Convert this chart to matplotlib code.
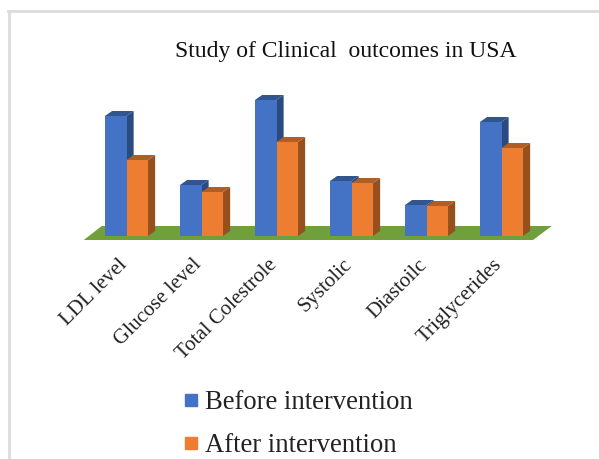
import matplotlib
matplotlib.use("Agg")
import matplotlib.pyplot as plt
from matplotlib.lines import Line2D
from matplotlib.patches import Polygon
from matplotlib.transforms import ScaledTranslation

# -----------------------------
# Data (no axis in the source, so values are in relative units)
# -----------------------------

categories = ["LDL level", "Glucose level", "Total Colestrole", "Systolic", "Diastoilc", "Triglycerides"]
before_values = [120, 51, 136, 55, 31, 114]
after_values = [76, 44, 94, 53, 30, 88]

BLUE = "#4472C4"
BLUE_SIDE = "#2A4A80"
BLUE_TOP = "#31568F"
ORANGE = "#ED7D31"
ORANGE_SIDE = "#96501E"
ORANGE_TOP = "#B05E24"
GREEN = "#70A03C"
BORDER = "#DCDCDC"

W, H = 599, 459
BAR_WIDTH = 0.287
DEPTH_X = 0.095
DEPTH_Y = 5

plt.rcParams["font.family"] = ["Liberation Serif", "DejaVu Serif"]

fig = plt.figure(figsize=(W / 100, H / 100), dpi=100)

# borders of the pasted screenshot
fig.add_artist(Line2D([8.5 / W, 8.5 / W], [0, 1 - 10.5 / H], color=BORDER, lw=2))
fig.add_artist(Line2D([8 / W, 1], [1 - 10.5 / H, 1 - 10.5 / H], color=BORDER, lw=2))

# axes placed so that baseline and bar spacing land on the source's pixels
left, right, base, top = 70, 570, 236, 90
ax = fig.add_axes([left / W, 1 - base / H, (right - left) / W, (base - top) / H])
ax.set_xlim((left - 126.5) / 75, (right - 126.5) / 75)
ax.set_ylim(0, base - top)
ax.patch.set_alpha(0)
for spine in ax.spines.values():
    spine.set_visible(False)

# floor
ax.add_patch(Polygon(
    [(-0.57, -4), (-0.33, 10), (5.67, 10), (5.42, -4)],
    closed=True, facecolor=GREEN, edgecolor="none", clip_on=False, zorder=1
))


def draw_bar(x, value, front, side, roof, z):
    x0 = x - BAR_WIDTH / 2
    x1 = x + BAR_WIDTH / 2
    ax.add_patch(Polygon(
        [(x1, 0), (x1 + DEPTH_X, DEPTH_Y), (x1 + DEPTH_X, value + DEPTH_Y), (x1, value)],
        closed=True, facecolor=side, edgecolor="none", zorder=z
    ))
    ax.add_patch(Polygon(
        [(x0, value), (x0 + DEPTH_X, value + DEPTH_Y), (x1 + DEPTH_X, value + DEPTH_Y), (x1, value)],
        closed=True, facecolor=roof, edgecolor="none", zorder=z
    ))
    ax.bar(x, value, width=BAR_WIDTH, color=front, zorder=z + 0.1)


for i in range(len(categories)):
    draw_bar(i - BAR_WIDTH / 2, before_values[i], BLUE, BLUE_SIDE, BLUE_TOP, 2)
    draw_bar(i + BAR_WIDTH / 2, after_values[i], ORANGE, ORANGE_SIDE, ORANGE_TOP, 3)

ax.set_yticks([])
ax.set_xticks(range(len(categories)))
ax.set_xticklabels(
    categories, rotation=45, ha="right", rotation_mode="anchor",
    fontsize=15, color="#222222"
)
ax.tick_params(axis="x", length=0, pad=14)

# labels sit a little left of the bar groups
shift = ScaledTranslation(-9 / 100, 0, fig.dpi_scale_trans)
for label in ax.get_xticklabels():
    label.set_transform(label.get_transform() + shift)

fig.text(346 / W, 1 - 51 / H, "Study of Clinical  outcomes in USA",
         ha="center", va="center", fontsize=17, color="#111111")

handles = [
    Line2D([], [], marker="s", linestyle="none", markersize=8.5, color=BLUE),
    Line2D([], [], marker="s", linestyle="none", markersize=8.5, color=ORANGE),
]
fig.legend(
    handles, ["Before intervention", "After intervention"],
    loc="upper left", bbox_to_anchor=(167 / W, 1 - 377 / H),
    frameon=False, fontsize=19.2, labelspacing=0.68, handlelength=0.8,
    handletextpad=0.12, borderpad=0, labelcolor="#222222"
)

fig.savefig("out.png", dpi=100)
